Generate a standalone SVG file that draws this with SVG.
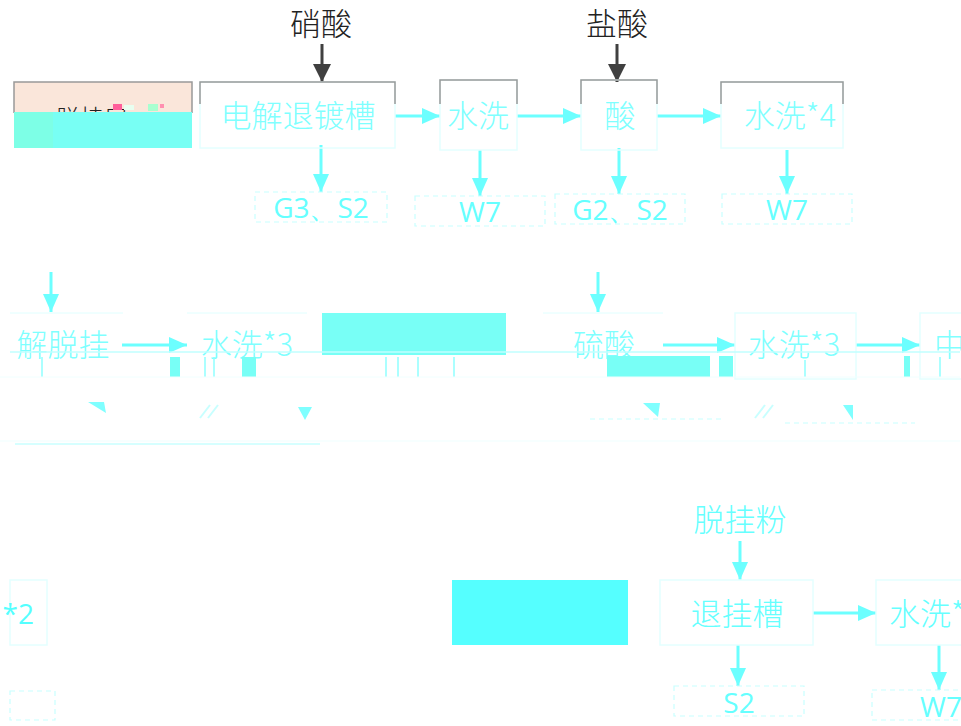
<svg xmlns="http://www.w3.org/2000/svg" width="961" height="726" viewBox="0 0 961 726">
<style>
.cn{font-family:"Noto Sans CJK SC","Noto Sans CJK JP",sans-serif;font-weight:300;font-size:31px;text-anchor:middle}
.lt{fill:#7FFFFF}
.dk{fill:#222}
.en{font-family:"Open Sans","Liberation Sans",sans-serif;font-size:28px;text-anchor:middle;fill:#66FFFF}
.box{fill:none;stroke:#E4FFFF;stroke-width:1.5}
.gray{fill:none;stroke:#999;stroke-width:1.5}
.dash{fill:none;stroke:#C8FFFF;stroke-width:1.2;stroke-dasharray:5,4}
.ca{stroke:#6CFFFF;stroke-width:3;fill:none;marker-end:url(#ac)}
.da{stroke:#404040;stroke-width:3;fill:none;marker-end:url(#ad)}
.blk{fill:#78FFF6}
.thin{stroke:#8FFFFF;stroke-width:1.5}
</style>
<defs>
<marker id="ac" markerUnits="userSpaceOnUse" markerWidth="18" markerHeight="16" refX="18" refY="8" orient="auto"><path d="M0,0 L18,8 L0,16 z" fill="#6CFFFF"/></marker>
<marker id="ad" markerUnits="userSpaceOnUse" markerWidth="18" markerHeight="18" refX="18" refY="9" orient="auto"><path d="M0,0 L18,9 L0,18 z" fill="#404040"/></marker>
</defs>
<rect width="961" height="726" fill="#fff"/>

<g id="connectors">
<line class="da" x1="322" y1="44" x2="322" y2="82"/>
<line class="da" x1="617" y1="44" x2="617" y2="82"/>
<line class="ca" x1="395" y1="116" x2="440" y2="116"/>
<line class="ca" x1="517" y1="116" x2="581" y2="116"/>
<line class="ca" x1="657" y1="116" x2="721" y2="116"/>
<line class="ca" x1="321" y1="145" x2="321" y2="192"/>
<line class="ca" x1="480" y1="150" x2="480" y2="196"/>
<line class="ca" x1="619" y1="148" x2="619" y2="194"/>
<line class="ca" x1="787" y1="150" x2="787" y2="194"/>
<line class="ca" x1="51" y1="272" x2="51" y2="312"/>
<line class="ca" x1="598" y1="272" x2="598" y2="312"/>
<line class="ca" x1="122" y1="345" x2="187" y2="345"/>
<line class="ca" x1="663" y1="345" x2="735" y2="345"/>
<line class="ca" x1="856" y1="345" x2="920" y2="345"/>
<line class="ca" x1="740" y1="541" x2="740" y2="580"/>
<line class="ca" x1="813" y1="613" x2="876" y2="613"/>
<line class="ca" x1="738" y1="645" x2="738" y2="686"/>
<line class="ca" x1="939" y1="645" x2="939" y2="690"/>
</g>

<text class="cn dk" x="321" y="35">硝酸</text>
<text class="cn dk" x="617" y="35">盐酸</text>

<g id="n1">
<rect x="14" y="82" width="178" height="32" fill="#FAE6DA"/>
<path class="gray" d="M14,113 V82 H192 V113"/>
<text x="56" y="127" font-family="Noto Sans CJK SC,sans-serif" font-weight="300" font-size="24" fill="#222">脱挂房</text>
<rect x="113" y="104" width="9" height="6" fill="#FF5F9A"/>
<rect x="124" y="105" width="10" height="5" fill="#E8FFF0"/>
<rect x="148" y="104" width="10" height="7" fill="#A8FFD0"/>
<rect x="160" y="104" width="4" height="4" fill="#FF8FB0"/>
<rect x="14" y="112" width="40" height="36" fill="#7DFFE6"/>
<rect x="53" y="112" width="139" height="36" fill="#78FFF4"/>
</g>
<g id="n2">
<rect class="box" x="200" y="82" width="195" height="66"/>
<path class="gray" d="M200,104 V82 H395 V104"/>
<text class="cn lt" x="298" y="127">电解退镀槽</text>
</g>
<g id="n3">
<rect class="box" x="440" y="80" width="77" height="70"/>
<path class="gray" d="M440,104 V80 H517 V104"/>
<text class="cn lt" x="478" y="127">水洗</text>
</g>
<g id="n4">
<rect class="box" x="581" y="80" width="76" height="70"/>
<path class="gray" d="M581,104 V80 H657 V104"/>
<text class="cn lt" x="620" y="127">酸</text>
</g>
<g id="n5">
<rect class="box" x="721" y="82" width="122" height="66"/>
<path class="gray" d="M721,104 V82 H843 V104"/>
<text class="cn lt" x="790" y="127">水洗*4</text>
</g>

<g id="o1"><rect class="dash" x="255" y="192" width="132" height="30"/><text class="en" x="321" y="218">G3、S2</text></g>
<g id="o2"><rect class="dash" x="415" y="196" width="130" height="30"/><text class="en" x="480" y="222">W7</text></g>
<g id="o3"><rect class="dash" x="555" y="194" width="130" height="30"/><text class="en" x="620" y="220">G2、S2</text></g>
<g id="o4"><rect class="dash" x="722" y="194" width="130" height="30"/><text class="en" x="787" y="220">W7</text></g>

<g id="m1"><line x1="10" y1="313" x2="123" y2="313" stroke="#E0FFFF"/><text class="cn lt" x="63" y="356">解脱挂</text></g>
<g id="m2"><line x1="187" y1="313" x2="307" y2="313" stroke="#E0FFFF"/><text class="cn lt" x="247" y="356">水洗*3</text></g>
<g id="m3"><rect class="blk" x="322" y="313" width="184" height="42"/></g>
<g id="m4"><line x1="543" y1="313" x2="663" y2="313" stroke="#E0FFFF"/><text class="cn lt" x="604" y="356">硫酸</text></g>
<g id="m5"><rect class="box" x="735" y="313" width="121" height="66"/><text class="cn lt" x="794" y="356">水洗*3</text></g>
<g id="m6"><rect class="box" x="920" y="313" width="50" height="66"/><text class="cn lt" x="934" y="356" style="text-anchor:start">中</text></g>

<g id="glitch">
<line x1="10" y1="352" x2="960" y2="352" stroke="#C0FFFF" stroke-width="1.5"/>
<rect class="blk" x="170" y="357" width="10" height="20"/>
<rect class="blk" x="242" y="357" width="14" height="20"/>
<rect class="blk" x="607" y="356" width="103" height="21"/>
<rect class="blk" x="719" y="356" width="14" height="21"/>
<rect class="blk" x="904" y="356" width="6" height="21"/>
<line class="thin" x1="42" y1="357" x2="42" y2="377"/>
<line class="thin" x1="205" y1="357" x2="205" y2="377"/>
<line class="thin" x1="214" y1="357" x2="214" y2="377"/>
<line class="thin" x1="386" y1="357" x2="386" y2="377"/>
<line class="thin" x1="398" y1="357" x2="398" y2="377"/>
<line class="thin" x1="418" y1="357" x2="418" y2="377"/>
<line class="thin" x1="454" y1="357" x2="454" y2="377"/>
<line class="thin" x1="805" y1="360" x2="805" y2="377"/>
<line class="thin" x1="940" y1="357" x2="940" y2="377"/>
<line x1="0" y1="377" x2="960" y2="377" stroke="#F0FFFF"/>
<path d="M88,402 H104 L106,413 Z" fill="#7FFFFF"/>
<path d="M298,407 H312 L305,420 Z" fill="#7FFFFF"/>
<path d="M643,403 H660 L658,417 Z" fill="#7FFFFF"/>
<path d="M843,405 H853 L853,420 Z" fill="#7FFFFF"/>
<line x1="200" y1="418" x2="210" y2="405" stroke="#C8FFFF" stroke-width="2"/>
<line x1="208" y1="418" x2="218" y2="405" stroke="#C8FFFF" stroke-width="2"/>
<line x1="755" y1="418" x2="765" y2="405" stroke="#C8FFFF" stroke-width="2"/>
<line x1="763" y1="418" x2="773" y2="405" stroke="#C8FFFF" stroke-width="2"/>
<line class="dash" x1="590" y1="419" x2="722" y2="419"/>
<line class="dash" x1="785" y1="423" x2="915" y2="423"/>
<line x1="15" y1="444" x2="320" y2="444" stroke="#C8FFFF" stroke-width="1.5"/>
<line x1="0" y1="441" x2="960" y2="441" stroke="#EFFFFF"/>
</g>

<g id="b0"><rect class="box" x="10" y="580" width="37" height="65"/><text class="en" x="34" y="624" style="text-anchor:end;fill:#55FFFF">*2</text></g>
<g id="b0o"><rect class="dash" x="10" y="691" width="45" height="29"/></g>
<g id="b1"><rect x="452" y="580" width="176" height="65" fill="#55FFFF"/></g>
<text class="cn" x="740" y="531" fill="#66FFFF">脱挂粉</text>
<g id="b2"><rect class="box" x="660" y="580" width="153" height="65" stroke="#D0FFFF"/><text class="cn" x="737" y="625" fill="#66FFFF">退挂槽</text></g>
<g id="b3"><rect class="box" x="876" y="580" width="100" height="65" stroke="#D0FFFF"/><text class="cn" x="889" y="625" fill="#66FFFF" style="text-anchor:start">水洗*3</text></g>
<g id="b4"><rect class="dash" x="674" y="686" width="130" height="30"/><text class="en" x="739" y="713" fill="#55FFFF">S2</text></g>
<g id="b5"><rect class="dash" x="872" y="690" width="100" height="30"/><text class="en" x="941" y="717" fill="#55FFFF">W7</text></g>
</svg>
